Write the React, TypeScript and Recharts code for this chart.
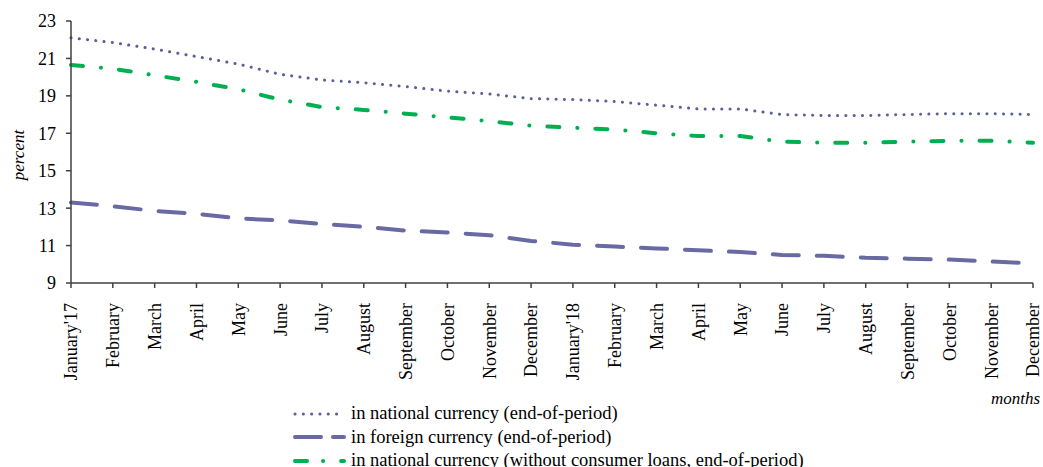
import { CartesianGrid, Legend, Line, LineChart, Text, XAxis, YAxis } from "recharts";

const months = [
  "January'17", "February", "March", "April", "May", "June", "July", "August",
  "September", "October", "November", "December",
  "January'18", "February", "March", "April", "May", "June", "July", "August",
  "September", "October", "November", "December",
];

// end-of-period rates, percent
const national = [
  22.1, 21.85, 21.5, 21.1, 20.7, 20.15, 19.85, 19.7, 19.5, 19.25, 19.1, 18.85,
  18.8, 18.7, 18.5, 18.3, 18.3, 18.0, 17.95, 17.95, 18.0, 18.05, 18.05, 18.0,
];
const foreign = [
  13.3, 13.1, 12.85, 12.7, 12.45, 12.35, 12.15, 12.0, 11.8, 11.7, 11.55, 11.25,
  11.05, 10.95, 10.85, 10.75, 10.65, 10.5, 10.45, 10.35, 10.3, 10.25, 10.15, 10.05,
];
const nationalNoConsumer = [
  20.65, 20.45, 20.1, 19.75, 19.35, 18.8, 18.4, 18.25, 18.05, 17.85, 17.65, 17.4,
  17.3, 17.2, 17.0, 16.85, 16.85, 16.55, 16.5, 16.5, 16.55, 16.6, 16.6, 16.5,
];
const yTicks = [9, 11, 13, 15, 17, 19, 21, 23];

const data = months.map((m, i) => ({
  idx: i,
  month: m,
  national: national[i],
  foreign: foreign[i],
  nationalNoConsumer: nationalNoConsumer[i],
}));

const FONT = "'Liberation Serif', 'Times New Roman', serif";
const PURPLE_DOT = "#5E5E9A";
const PURPLE_DASH = "#6969A3";
const GREEN = "#00B050";

const series = [
  { key: "national", name: "in national currency (end-of-period)", color: PURPLE_DOT, width: 3, dash: "0.1 8.2", legendDash: "0.1 8.2" },
  { key: "foreign", name: "in foreign currency (end-of-period)", color: PURPLE_DASH, width: 4, dash: "26 18", legendDash: "26 12" },
  { key: "nationalNoConsumer", name: "in national currency (without consumer loans, end-of-period)", color: GREEN, width: 4, dash: "12 18 0.1 18", legendDash: "12 16 0.1 18" },
];

const MonthTick = (props: any) => {
  const { x, y, payload } = props;
  return (
    <Text
      x={x}
      y={y + 13}
      angle={-90}
      textAnchor="end"
      verticalAnchor="middle"
      fontSize={18}
      fontFamily={FONT}
      fill="#000"
    >
      {months[payload.value]}
    </Text>
  );
};

const LegendBox = () => (
  <div style={{ fontFamily: FONT, fontSize: 18.5, color: "#000" }}>
    {series.map((s) => (
      <div key={s.key} style={{ display: "flex", alignItems: "center", height: 23.5 }}>
        <svg width={60} height={10}>
          <line
            x1={4}
            y1={5}
            x2={53}
            y2={5}
            stroke={s.color}
            strokeWidth={s.width}
            strokeDasharray={s.legendDash}
            strokeLinecap="round"
          />
        </svg>
        <span style={{ whiteSpace: "nowrap" }}>{s.name}</span>
      </div>
    ))}
  </div>
);

export default function App() {
  return (
    <div style={{ position: "absolute", left: 0, top: 0 }}>
      <LineChart
        width={1043}
        height={467}
        data={data}
        margin={{ top: 21, right: 10, left: 31, bottom: 0 }}
      >
        <CartesianGrid horizontal={false} vertical={false} />
        <XAxis
          dataKey="idx"
          type="category"
          height={184}
          interval={0}
          tick={<MonthTick />}
          tickSize={5}
          axisLine={{ stroke: "#404040", strokeWidth: 1.5 }}
          tickLine={{ stroke: "#404040", strokeWidth: 1.5 }}
          label={{
            content: () => (
              <text x={1040} y={404} textAnchor="end" fontFamily={FONT} fontSize={17} fontStyle="italic" fill="#000">
                months
              </text>
            ),
          }}
        />
        <YAxis
          width={40}
          domain={[9, 23]}
          ticks={yTicks}
          interval={0}
          tickSize={5}
          tickMargin={10}
          axisLine={{ stroke: "#404040", strokeWidth: 1.5 }}
          tickLine={{ stroke: "#404040", strokeWidth: 1.5 }}
          tick={{ fontFamily: FONT, fontSize: 18, fill: "#000" }}
          label={{
            content: () => (
              <text
                x={20}
                y={155}
                transform="rotate(-90 20 155)"
                textAnchor="middle"
                dominantBaseline="middle"
                fontFamily={FONT}
                fontSize={17}
                fontStyle="italic"
                fill="#000"
              >
                percent
              </text>
            ),
          }}
        />
        {series.map((s) => (
          <Line
            key={s.key}
            type="linear"
            dataKey={s.key}
            name={s.name}
            stroke={s.color}
            strokeWidth={s.width}
            strokeDasharray={s.dash}
            strokeLinecap="round"
            dot={false}
            activeDot={false}
            isAnimationActive={false}
          />
        ))}
        <Legend
          layout="horizontal"
          verticalAlign="middle"
          align="center"
          content={<LegendBox />}
          wrapperStyle={{ left: 291, top: 402, width: 700, height: 70 }}
        />
      </LineChart>
    </div>
  );
}
